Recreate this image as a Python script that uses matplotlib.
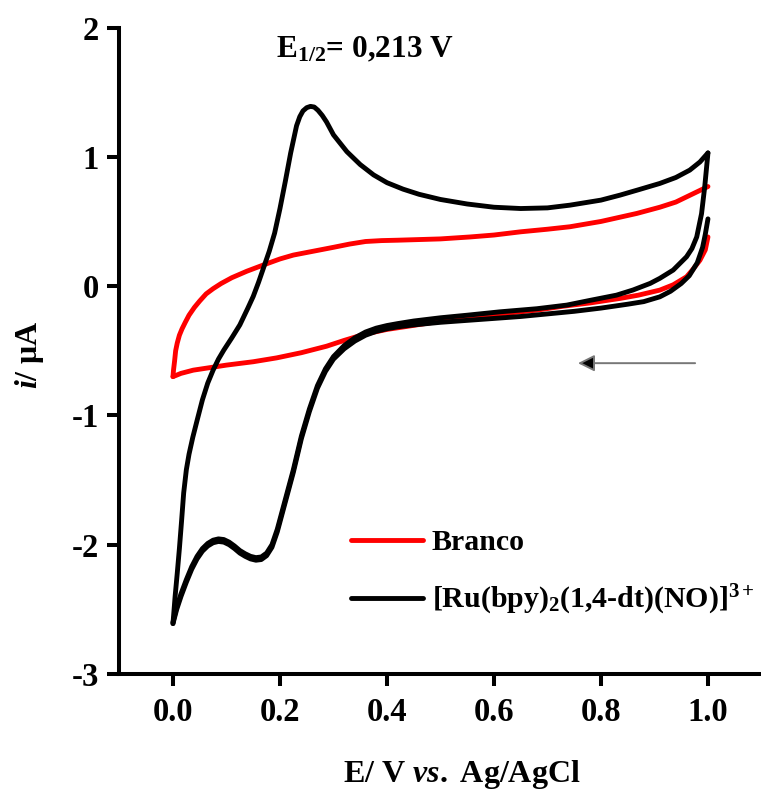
import matplotlib
matplotlib.use("Agg")
import matplotlib.pyplot as plt

plt.rcParams['font.family'] = ['Liberation Serif', 'DejaVu Serif']
plt.rcParams['font.weight'] = 'bold'
plt.rcParams['mathtext.fontset'] = 'custom'
plt.rcParams['mathtext.rm'] = 'Liberation Serif:bold'
plt.rcParams['mathtext.bf'] = 'Liberation Serif:bold'
plt.rcParams['mathtext.it'] = 'Liberation Serif:italic:bold'
plt.rcParams['mathtext.default'] = 'rm'

# Blank electrolyte: cathodic sweep from 1.0 V, then anodic sweep back
branco_cat_E = [1.0, 0.995, 0.985, 0.972, 0.96, 0.935, 0.91, 0.87, 0.836, 0.78, 0.73,
                0.68, 0.6, 0.55, 0.493, 0.44, 0.40, 0.36, 0.32, 0.287, 0.24, 0.194, 0.15,
                0.1, 0.07, 0.038, 0.015, 0.0]
branco_cat_i = [0.38, 0.28, 0.20, 0.13, 0.072, 0.01, -0.031, -0.07, -0.095, -0.13, -0.155,
                -0.186, -0.22, -0.245, -0.276, -0.31, -0.335, -0.37, -0.42, -0.465, -0.515,
                -0.555, -0.585, -0.611, -0.63, -0.65, -0.675, -0.70]
branco_an_E = [0.0, 0.001, 0.003, 0.005, 0.008, 0.012, 0.017, 0.023, 0.03, 0.04, 0.05,
               0.062, 0.075, 0.09, 0.11, 0.138, 0.17, 0.2, 0.225, 0.25, 0.275, 0.3, 0.33,
               0.36, 0.39, 0.42, 0.46, 0.5, 0.555, 0.6, 0.65, 0.7, 0.742, 0.8, 0.867, 0.91,
               0.94, 0.96, 0.98, 1.0]
branco_an_i = [-0.70, -0.65, -0.58, -0.50, -0.44, -0.38, -0.33, -0.28, -0.225, -0.165,
               -0.115, -0.06, -0.02, 0.02, 0.065, 0.115, 0.165, 0.21, 0.24, 0.26, 0.28,
               0.30, 0.325, 0.345, 0.352, 0.355, 0.36, 0.365, 0.38, 0.395, 0.42, 0.44,
               0.459, 0.50, 0.562, 0.61, 0.65, 0.69, 0.73, 0.77]

# Ruthenium nitrosyl complex: first cathodic sweep
ru_cat1_E = [1.0, 0.995, 0.99, 0.98, 0.965, 0.95, 0.93, 0.91, 0.88, 0.85, 0.8, 0.75, 0.7,
             0.65, 0.6, 0.55, 0.5, 0.45, 0.42, 0.40, 0.38, 0.36, 0.34, 0.32, 0.30, 0.285,
             0.27, 0.255, 0.24, 0.225, 0.21, 0.195, 0.185, 0.175, 0.165, 0.155, 0.145, 0.135,
             0.125, 0.115, 0.105, 0.095, 0.085, 0.075, 0.065, 0.055, 0.045, 0.035, 0.025,
             0.015, 0.007, 0.0]
ru_cat1_i = [0.52, 0.40, 0.30, 0.18, 0.08, 0.02, -0.04, -0.083, -0.12, -0.14, -0.17, -0.195,
             -0.215, -0.235, -0.25, -0.265, -0.28, -0.30, -0.315, -0.33, -0.35, -0.38,
             -0.425, -0.485, -0.565, -0.66, -0.79, -0.97, -1.18, -1.44, -1.67, -1.90,
             -2.02, -2.085, -2.115, -2.12, -2.11, -2.09, -2.065, -2.03, -2.0, -1.98, -1.975,
             -1.985, -2.01, -2.05, -2.11, -2.19, -2.29, -2.40, -2.50, -2.61]
# anodic sweep
ru_an_E = [0.0, 0.004, 0.008, 0.012, 0.016, 0.02, 0.025, 0.03, 0.037, 0.045, 0.055, 0.065,
           0.075, 0.085, 0.095, 0.11, 0.125, 0.14, 0.15, 0.16, 0.17, 0.18, 0.19, 0.2, 0.21,
           0.22, 0.231, 0.237, 0.243, 0.25, 0.257, 0.264, 0.271, 0.279, 0.287, 0.3, 0.325,
           0.35, 0.375, 0.4, 0.43, 0.46, 0.5, 0.55, 0.6, 0.65, 0.7, 0.742, 0.8, 0.836, 0.87,
           0.91, 0.94, 0.966, 0.985, 1.0]
ru_an_i = [-2.61, -2.40, -2.22, -2.03, -1.82, -1.60, -1.42, -1.30, -1.17, -1.04, -0.88,
           -0.75, -0.65, -0.565, -0.495, -0.40, -0.30, -0.17, -0.08, 0.03, 0.15, 0.27,
           0.41, 0.60, 0.81, 1.03, 1.24, 1.31, 1.355, 1.38, 1.39, 1.385, 1.36, 1.32, 1.27,
           1.17, 1.04, 0.94, 0.86, 0.80, 0.75, 0.71, 0.67, 0.635, 0.61, 0.60, 0.605,
           0.626, 0.665, 0.704, 0.745, 0.794, 0.84, 0.897, 0.96, 1.03]
# second cathodic sweep
ru_cat2_E = [1.0, 0.997, 0.994, 0.988, 0.979, 0.970, 0.960, 0.935, 0.91, 0.892, 0.86, 0.829,
             0.78, 0.736, 0.68, 0.611, 0.55, 0.5, 0.45, 0.42, 0.40, 0.38, 0.36, 0.34, 0.32,
             0.30, 0.285, 0.27, 0.255, 0.24, 0.225, 0.21, 0.195, 0.185, 0.175, 0.165, 0.155,
             0.145, 0.135, 0.125, 0.115, 0.105, 0.095, 0.085, 0.075, 0.065, 0.055, 0.045,
             0.035, 0.025, 0.015, 0.007, 0.0]
ru_cat2_i = [1.03, 0.90, 0.77, 0.56, 0.38, 0.29, 0.227, 0.124, 0.06, 0.021, -0.03, -0.07,
             -0.11, -0.147, -0.175, -0.199, -0.225, -0.245, -0.27, -0.29, -0.305, -0.325,
             -0.355, -0.40, -0.46, -0.545, -0.64, -0.77, -0.95, -1.16, -1.42, -1.65, -1.88,
             -2.0, -2.065, -2.095, -2.1, -2.09, -2.07, -2.045, -2.01, -1.98, -1.96, -1.955,
             -1.965, -1.99, -2.03, -2.09, -2.17, -2.27, -2.38, -2.48, -2.60]

x_ticks = [0.0, 0.2, 0.4, 0.6, 0.8, 1.0]
x_ticklabels = ['0.0', '0.2', '0.4', '0.6', '0.8', '1.0']
y_ticks = [-3, -2, -1, 0, 1, 2]
y_ticklabels = ['-3', '-2', '-1', '0', '1', '2']

RED = '#ff0000'
BLACK = '#000000'
LW = 3.5

fig = plt.figure(figsize=(7.61, 7.95), dpi=100)
ax = fig.add_axes([0.1570, 0.1522, 0.8436, 0.8132])

line_kw = dict(lw=LW, solid_joinstyle='round', solid_capstyle='round')
ax.plot(branco_cat_E, branco_cat_i, color=RED, **line_kw)
ax.plot(branco_an_E, branco_an_i, color=RED, label='Branco', **line_kw)
ax.plot(ru_cat1_E, ru_cat1_i, color=BLACK, **line_kw)
ax.plot(ru_cat2_E, ru_cat2_i, color=BLACK, **line_kw)
ax.plot(ru_an_E, ru_an_i, color=BLACK, label='[Ru(bpy)$_2$(1,4-dt)(NO)]$^{3+}$',
        **line_kw)

ax.set_xlim(-0.1, 1.1)
ax.set_ylim(-3, 2)
ax.set_xticks(x_ticks)
ax.set_xticklabels(x_ticklabels)
ax.set_yticks(y_ticks)
ax.set_yticklabels(y_ticklabels)

for side in ('top', 'right'):
    ax.spines[side].set_visible(False)
for side in ('left', 'bottom'):
    ax.spines[side].set_linewidth(2.9)
ax.tick_params(axis='both', direction='out', length=8.6, width=2.9, labelsize=23.5)
ax.tick_params(axis='x', pad=8)
ax.tick_params(axis='y', pad=6)

ax.set_xlabel('E/ V $\\mathit{vs.}$ Ag/AgCl', fontsize=23, fontweight='bold', va='center')
ax.xaxis.set_label_coords(0.5335, -0.1562)
ax.set_ylabel('$\\mathit{i}$/ \u03bcA', fontsize=23, fontweight='bold', va='center')
ax.yaxis.set_label_coords(-0.1394, 0.4934)

ax.text(0.359, 1.83, 'E$_{1/2}$= 0,213 V', fontsize=22.5, fontweight='bold',
        ha='center', va='center')

# scan direction
ax.annotate('', xy=(0.757, -0.596), xytext=(0.976, -0.596),
            arrowprops=dict(arrowstyle='-|>', lw=1.4, ec='#777777', fc='black',
                            mutation_scale=25, shrinkA=0, shrinkB=0))

ax.legend(loc='upper left', bbox_to_anchor=(0.3605, 0.2236), frameon=False,
          fontsize=21.5, handlelength=2.4, handletextpad=0.3, labelspacing=0.9,
          borderaxespad=0, borderpad=0)

fig.savefig('out.png', dpi=100)
